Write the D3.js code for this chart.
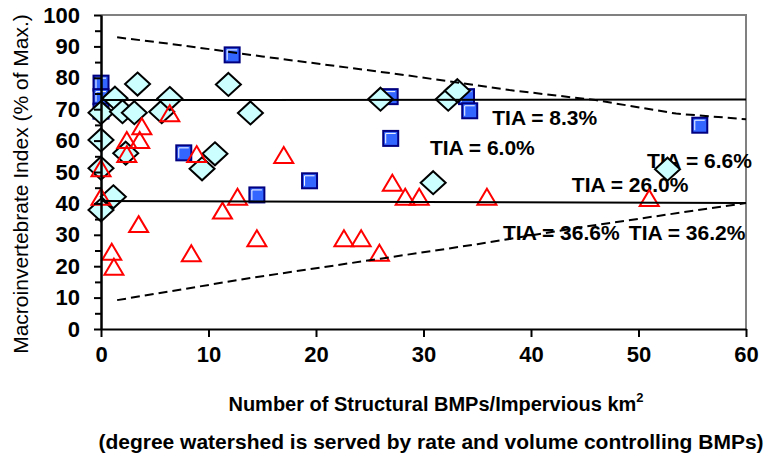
<!DOCTYPE html>
<html>
<head>
<meta charset="utf-8">
<script src="https://cdn.jsdelivr.net/npm/d3@7"></script>
<style>
  html, body { margin: 0; padding: 0; background: #fff; }
  svg { display: block; font-family: "Liberation Sans", Arial, sans-serif; }
</style>
</head>
<body>
<svg id="chart" width="767" height="457"></svg>
<script>
// ---- data ----
const xTickValues = [0, 10, 20, 30, 40, 50, 60];
const yTickValues = [0, 10, 20, 30, 40, 50, 60, 70, 80, 90, 100];
const yMinorTicks = [5, 15, 25, 35, 45, 55, 65, 75, 85, 95];

// blue squares [x, y]
const squares = [
  [0, 78.3], [0, 74.0], [0, 69.4], [12.2, 87.3], [7.7, 56.1], [14.5, 42.7],
  [19.4, 47.2], [26.9, 74.0], [26.95, 60.7], [34.0, 74.0], [34.3, 69.5], [55.7, 64.9]
];
// cyan diamonds [x, y]
const diamonds = [
  [0, 68.9], [1.3, 73.5], [2.0, 69.2], [3.1, 68.9], [3.4, 78.0], [5.65, 69.2],
  [6.4, 73.4], [11.85, 77.9], [13.9, 68.8], [0, 60.2], [2.3, 56.0], [10.6, 55.8],
  [9.4, 51.0], [0, 51.2], [1.15, 42.1], [0, 37.9], [26.0, 73.2], [32.3, 73.2],
  [33.15, 75.9], [30.9, 46.6], [52.7, 50.9]
];
// red open triangles [x, y]
const triangles = [
  [6.4, 68.7], [3.8, 64.6], [3.6, 60.2], [2.4, 60.2], [2.4, 55.7], [8.9, 55.7],
  [0, 51.2], [0, 42.1], [3.5, 33.4], [1.0, 24.6], [1.2, 19.8], [8.4, 24.1],
  [11.3, 37.7], [12.7, 42.1], [14.5, 28.9], [17.0, 55.4], [22.6, 28.9], [24.2, 28.9],
  [25.9, 24.3], [27.1, 46.6], [28.3, 42.1], [29.6, 42.1], [35.9, 42.1], [51.0, 41.7]
];
// trend lines
const upperTrend = [[0, 72.9], [60, 73.1]];
const lowerTrend = [[0, 40.8], [60, 40.1]];
// dashed bounds
const upperBound = [[1.5, 92.9], [7.4, 90.4], [15, 86.8], [20.4, 84.4], [28, 81.0], [38, 76.1], [46, 72.9], [53.5, 68.6], [60, 66.8]];
const lowerBound = [[1.5, 9.2], [14, 16.3], [26, 22.4], [35, 27.0], [45, 32.6], [60, 40.1]];
// annotations [x, y, text]
const labels = [
  [36.4, 65.0, "TIA = 8.3%"],
  [30.6, 55.4, "TIA = 6.0%"],
  [50.8, 51.3, "TIA = 6.6%"],
  [43.8, 43.6, "TIA = 26.0%"],
  [37.4, 28.3, "TIA = 36.6%"],
  [49.1, 28.3, "TIA = 36.2%"]
];
const yTitle = "Macroinvertebrate Index (% of Max.)";
const xTitle = "Number of Structural BMPs/Impervious km";
const xTitleSup = "2";
const xSubTitle = "(degree watershed is served by rate and volume controlling BMPs)";

// ---- drawing ----
const svg = d3.select("#chart");
const x = d3.scaleLinear().domain([0, 60]).range([101, 746]);
const y = d3.scaleLinear().domain([0, 100]).range([329, 15]);

// plot border (gray top/right)
svg.append("path")
  .attr("d", `M${x(0)},${y(100)}H${x(60)}V${y(0)}`)
  .attr("fill", "none").attr("stroke", "#808080").attr("stroke-width", 2);

// annotations (under marks)
svg.append("g").selectAll("text").data(labels).join("text")
  .attr("x", d => x(d[0])).attr("y", d => y(d[1]))
  .attr("font-size", 21).attr("font-weight", "bold").attr("fill", "#000")
  .text(d => d[2]);

// markers
const gm = svg.append("g");
gm.selectAll("rect.sq").data(squares).join("rect").attr("class", "sq")
  .attr("x", d => x(d[0]) - 7.5).attr("y", d => y(d[1]) - 7.5)
  .attr("width", 15).attr("height", 15)
  .attr("fill", "#3366FF").attr("stroke", "#000080").attr("stroke-width", 2);
gm.selectAll("path.hl").data(squares).join("path").attr("class", "hl")
  .attr("d", d => `M${x(d[0]) - 5},${y(d[1]) + 5}V${y(d[1]) - 5}H${x(d[0]) + 5}`)
  .attr("fill", "none").attr("stroke", "#fff").attr("stroke-width", 1);

gm.selectAll("path.dm").data(diamonds).join("path").attr("class", "dm")
  .attr("d", d => { const cx = x(d[0]), cy = y(d[1]); return `M${cx},${cy - 11.5}L${cx + 12.5},${cy}L${cx},${cy + 11.5}L${cx - 12.5},${cy}Z`; })
  .attr("fill", "#CCFFFF").attr("stroke", "#000").attr("stroke-width", 2).attr("stroke-linejoin", "miter");

gm.selectAll("path.tr").data(triangles).join("path").attr("class", "tr")
  .attr("d", d => { const cx = x(d[0]), cy = y(d[1]); return `M${cx},${cy - 8}L${cx + 9.5},${cy + 8}L${cx - 9.5},${cy + 8}Z`; })
  .attr("fill", "none").attr("stroke", "#FF0000").attr("stroke-width", 2);

// lines
const line = d3.line().x(d => x(d[0])).y(d => y(d[1]));
[upperTrend, lowerTrend].forEach(t => svg.append("path").attr("d", line(t))
  .attr("fill", "none").attr("stroke", "#000").attr("stroke-width", 2));
[upperBound, lowerBound].forEach(t => svg.append("path").attr("d", line(t))
  .attr("fill", "none").attr("stroke", "#000").attr("stroke-width", 2).attr("stroke-dasharray", "9,5"));

// axes
svg.append("g").attr("transform", `translate(${x(0)},0)`)
  .call(d3.axisLeft(y).tickValues(yTickValues).tickSize(7).tickPadding(14).tickSizeOuter(0));
svg.append("g").attr("transform", `translate(${x(0)},0)`)
  .call(d3.axisLeft(y).tickValues(yMinorTicks).tickSize(6).tickFormat("").tickSizeOuter(0));
svg.append("g").attr("transform", `translate(0,${y(0)})`)
  .call(d3.axisBottom(x).tickValues(xTickValues).tickSize(8).tickPadding(9).tickSizeOuter(0));
svg.selectAll(".domain").attr("stroke", "#000").attr("stroke-width", 2);
svg.selectAll(".tick line").attr("stroke", "#000").attr("stroke-width", 2);
svg.selectAll(".tick text").attr("font-size", 22).attr("font-weight", "bold")
  .attr("font-family", "Liberation Sans, Arial, sans-serif").attr("fill", "#000");

// titles
svg.append("text")
  .attr("transform", `translate(21,${(y(0) + y(100)) / 2 + 12}) rotate(-90)`)
  .attr("text-anchor", "middle").attr("dy", "0.35em")
  .attr("font-size", 21).attr("fill", "#000").text(yTitle);

const t = svg.append("text").attr("x", 436).attr("y", 411)
  .attr("text-anchor", "middle").attr("font-size", 20).attr("font-weight", "bold").attr("fill", "#000");
t.append("tspan").text(xTitle);
t.append("tspan").attr("dy", -9).attr("font-size", 13).text(xTitleSup);

svg.append("text").attr("x", 431).attr("y", 449)
  .attr("text-anchor", "middle").attr("font-size", 21).attr("font-weight", "bold").attr("fill", "#000")
  .text(xSubTitle);
</script>
</body>
</html>
